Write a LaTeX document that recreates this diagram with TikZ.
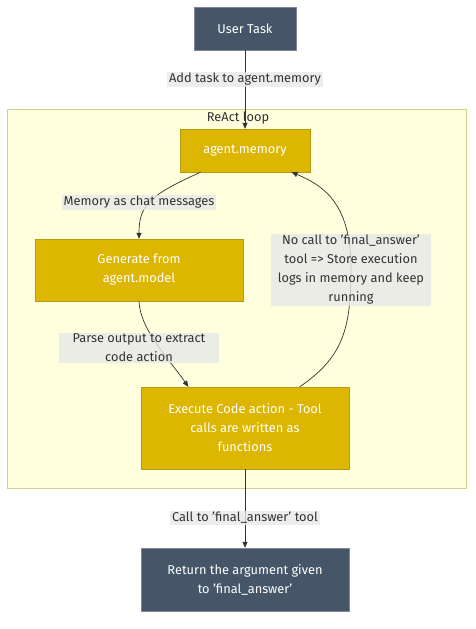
\documentclass[tikz,border=0pt]{standalone}
\usepackage{fontspec}
\setmainfont{Fira Sans}
\usetikzlibrary{arrows.meta}
\definecolor{slate}{HTML}{475569}
\definecolor{gold}{HTML}{DCB600}
\definecolor{goldline}{HTML}{B39A10}
\definecolor{loopfill}{HTML}{FFFFDE}
\definecolor{loopline}{HTML}{D2D28C}
\definecolor{lblfill}{HTML}{E8E8E8}
\definecolor{ink}{HTML}{333333}

\begin{document}
\begin{tikzpicture}[x=1pt,y=-1pt,
  box/.style={draw=goldline,fill=gold,text=white,align=center,inner sep=0pt,font=\fontsize{12.8}{19}\selectfont},
  endbox/.style={box,draw=slate!70!white,fill=slate},
  lbl/.style={fill=lblfill,fill opacity=.8,text opacity=1,text=ink,align=center,inner xsep=2pt,inner ysep=1pt,font=\fontsize{12.8}{19}\selectfont},
  edge/.style={draw=ink,line width=.7pt,-{Triangle[length=6pt,width=5pt]}}]
  \useasboundingbox (0,0) rectangle (476,629);

  \node[draw=loopline,fill=loopfill,line width=1pt,minimum width=459pt,minimum height=379pt] (loop) at (236.5,298.5) {};
  \node[text=ink,font=\fontsize{12.8}{19}\selectfont] (title) at (238,118) {ReAct loop};

  \node[endbox,minimum width=102pt,minimum height=43pt] (0) at (245,28.5) {User Task};

  \node[box,minimum width=130pt,minimum height=43pt] (1) at (245,150.5) {agent.memory};
  \node[box,minimum width=208pt,minimum height=62pt] (2) at (139,270) {Generate from\\agent.model};
  \node[box,minimum width=208pt,minimum height=82pt] (3) at (245,428) {Execute Code action - Tool\\calls are written as\\functions};

  \node[endbox,minimum width=208pt,minimum height=63pt] (4) at (245,579.5) {Return the argument given\\to 'final\_answer'};

  \draw[edge] (0) -- (1);
  \draw[edge] (1.206) .. controls (150,195) and (139,205) .. (2.north);
  \draw[edge] (2.south) .. controls (140,330) and (170,360) .. (3.144);
  \draw[edge] (3.37) .. controls (342,358) and (351,330) .. (351,270)
    .. controls (351,210) and (330,188) .. (1.335);
  \draw[edge] (3) -- (4);

  \node[lbl] (5) at (245,79.5) {Add task to agent.memory};
  \node[lbl] (6) at (139,202.5) {Memory as chat messages};
  \node[lbl,minimum width=160pt] (7) at (139,348) {Parse output to extract\\code action};
  \node[lbl,minimum width=160pt] (8) at (351,270) {No call to 'final\_answer'\\tool => Store execution\\logs in memory and keep\\running};
  \node[lbl] (9) at (245,518) {Call to 'final\_answer' tool};
\end{tikzpicture}
\end{document}
